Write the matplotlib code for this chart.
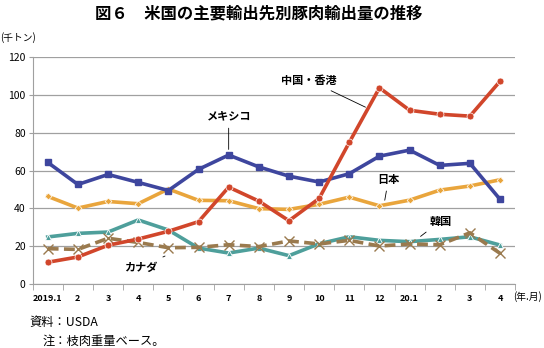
import matplotlib
matplotlib.use("Agg")
import matplotlib.pyplot as plt
import numpy as np

plt.rcParams['font.family'] = ['Noto Sans CJK JP', 'DejaVu Sans']

months = ["2019.1", "2", "3", "4", "5", "6", "7", "8", "9", "10", "11", "12",
          "20.1", "2", "3", "4"]
mexico = [64.4, 52.7, 58.0, 53.8, 49.5, 60.7, 68.3, 62.0, 57.1, 54.0, 58.4, 67.7, 70.9, 62.8, 63.9, 44.8]
china_hk = [11.5, 14.3, 20.5, 23.8, 27.9, 33.0, 51.3, 43.9, 33.5, 45.3, 75.0, 103.9, 92.0, 89.9, 88.9, 107.4]
japan = [46.4, 40.2, 43.7, 42.5, 50.3, 44.3, 44.1, 39.9, 39.5, 42.2, 46.0, 41.4, 44.4, 49.7, 51.9, 55.2]
korea = [24.9, 26.8, 27.5, 33.9, 28.6, 19.0, 16.4, 19.0, 15.0, 21.3, 25.0, 23.1, 22.4, 23.6, 25.0, 20.6]
canada = [18.7, 18.3, 24.2, 22.0, 19.2, 19.4, 20.8, 19.8, 22.8, 21.2, 23.1, 20.1, 21.2, 20.8, 27.1, 16.2]

fig = plt.figure(figsize=(5.44, 3.48), dpi=100)
ax = fig.add_axes([0.060, 0.184, 0.887, 0.651])
x = np.arange(len(months))

c_mex = "#3E469E"
c_chn = "#D1462B"
c_jpn = "#E9A53C"
c_kor = "#4E9F9B"
c_can = "#9A7A4E"

ax.plot(x, korea, color=c_kor, lw=2.6, marker="^", ms=5, mfc=c_kor, mec="white", mew=0.6, zorder=3)
ax.plot(x, canada, color=c_can, lw=2.6, ls=(0, (3, 1.5)), marker="x", ms=7, mec=c_can, mew=1.0, zorder=4)
ax.plot(x, japan, color=c_jpn, lw=2.6, marker="D", ms=3.5, mfc=c_jpn, mec="white", mew=0.5, zorder=3)
ax.plot(x, china_hk, color=c_chn, lw=2.6, marker="o", ms=5, mfc=c_chn, mec="white", mew=0.5, zorder=5)
ax.plot(x, mexico, color=c_mex, lw=2.6, marker="s", ms=5, mfc=c_mex, mec=c_mex, zorder=4)

ax.set_xlim(-0.5, len(months) - 0.5)
ax.set_ylim(0, 120)
ax.set_yticks(np.arange(0, 121, 20))
ax.yaxis.grid(True, color="#A0A0A0", lw=0.9)
ax.set_axisbelow(True)
for s in ["top", "right"]:
    ax.spines[s].set_visible(False)
ax.spines["left"].set_color("#A0A0A0")
ax.spines["bottom"].set_color("#A0A0A0")
ax.tick_params(axis="y", length=3, color="#A0A0A0", labelsize=7.5, pad=2)
ax.set_xticks(x)
ax.set_xticklabels(months, fontsize=6.5, fontweight="bold")
ax.tick_params(axis="x", length=0, pad=7)
ax.set_xticks(np.arange(-0.5, len(months), 1), minor=True)
ax.tick_params(axis="x", which="minor", length=4, color="#A0A0A0", direction="out")

kw = dict(fontsize=8, fontweight="bold", ha="center", va="center")
lkw = dict(arrowstyle="-", color="black", lw=0.6)
ax.annotate("中国・香港", xy=(10.62, 93.0), xytext=(8.67, 107.9), arrowprops=lkw, **kw)
ax.annotate("メキシコ", xy=(6.0, 69.8), xytext=(6.0, 88.9), arrowprops=lkw, **kw)
ax.annotate("日本", xy=(11.16, 42.9), xytext=(11.3, 55.6), arrowprops=lkw, **kw)
ax.annotate("韓国", xy=(12.29, 24.3), xytext=(13.02, 33.3), arrowprops=lkw, **kw)
ax.annotate("カナダ", xy=(3.89, 14.8), xytext=(3.09, 9.0), arrowprops=lkw, **kw)

fig.text(0.475, 0.962, "図６　米国の主要輸出先別豚肉輸出量の推移", ha="center", va="center",
         fontsize=11.8, fontweight="bold")
fig.text(0.0, 0.893, "(千トン)", ha="left", va="center", fontsize=7)
fig.text(0.943, 0.147, "(年.月)", ha="left", va="center", fontsize=7)
fig.text(0.055, 0.072, "資料：USDA", ha="left", va="center", fontsize=8.8)
fig.text(0.079, 0.020, "注：枝肉重量ベース。", ha="left", va="center", fontsize=8.8)

fig.savefig("out.png", dpi=100)
